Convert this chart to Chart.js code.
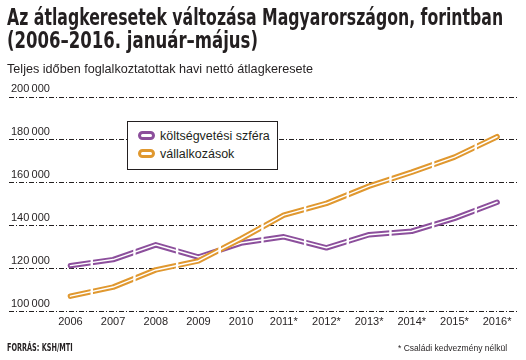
<!DOCTYPE html>
<html>
<head>
<meta charset="utf-8">
<script src="https://cdn.jsdelivr.net/npm/chart.js@4"></script>
<style>
  html, body { margin: 0; padding: 0; background: #fff; }
  #wrap { position: relative; width: 526px; height: 360px; overflow: hidden; color: #231f20; }
  #chart { position: absolute; left: 0; top: 0; }
  .txt { position: absolute; white-space: nowrap; transform-origin: 0 0; }
  .title { font-family: "DejaVu Sans Condensed", "DejaVu Sans", sans-serif; font-weight: bold; font-size: 23.5px; line-height: 23px; left: 7px; }
  .sub { font-family: "Liberation Sans", sans-serif; font-size: 13px; line-height: 14px; left: 7px; top: 62px; }
  .src { font-family: "DejaVu Sans Condensed", "DejaVu Sans", sans-serif; font-weight: bold; font-size: 10px; line-height: 10px; left: 7px; top: 343px; }
  .note { font-family: "Liberation Sans", sans-serif; font-size: 9px; line-height: 9px; top: 344px; }
  #legend { position: absolute; left: 127px; top: 121px; width: 149px; height: 47px; border: 1.7px solid #231f20; background: #fff; }
  .row { position: absolute; left: 10px; height: 16px; font-family: "Liberation Sans", sans-serif; font-size: 12.5px; line-height: 16px; white-space: nowrap; }
  .pill { display: inline-block; width: 11px; height: 3px; border: 3px solid; border-radius: 5px; vertical-align: middle; margin-right: 5px; position: relative; top: -1px; }
</style>
</head>
<body>
<div id="wrap">
  <canvas id="chart" width="526" height="360"></canvas>
  <div class="txt title" id="t1" style="top:6px">Az átlagkeresetek változása Magyarországon, forintban</div>
  <div class="txt title" id="t2" style="top:29px">(2006–2016. január–május)</div>
  <div class="txt sub" id="sub">Teljes időben foglalkoztatottak havi nettó átlagkeresete</div>
  <div id="legend"></div>
  <div class="txt src" id="src">FORRÁS: KSH/MTI</div>
  <div class="txt note" id="note">* Családi kedvezmény nélkül</div>
</div>
<script>
// Years and their axis labels (* = without family allowance)
const years = [2006, 2007, 2008, 2009, 2010, 2011, 2012, 2013, 2014, 2015, 2016];
const yearLabels = ['2006', '2007', '2008', '2009', '2010', '2011*', '2012*', '2013*', '2014*', '2015*', '2016*'];

// Net average monthly earnings, HUF
const budgetSector = [121500, 124300, 131200, 125500, 132000, 134900, 129800, 135900, 137500, 143500, 151000];
const businessSector = [107300, 111500, 119500, 123700, 134000, 145000, 150500, 158500, 165000, 172000, 181500];

const seriesNames = ['költségvetési szféra', 'vállalkozások'];
const seriesColors = ['#8c4f9c', '#e0982f'];

// y axis ticks
const yTicks = [100000, 120000, 140000, 160000, 180000, 200000];
const yTickLabels = ['100\u2009000', '120\u2009000', '140\u2009000', '160\u2009000', '180\u2009000', '200\u2009000'];

const tickFont = { family: '"Liberation Sans", Arial, sans-serif', size: 11 };

// squeeze text to the width it has in the print
function fit(id, width) {
    const el = document.getElementById(id);
    el.style.transform = 'scaleX(' + (width / el.scrollWidth) + ')';
}
fit('t1', 496);
fit('t2', 251);
fit('sub', 306);
fit('src', 66);
const note = document.getElementById('note');
note.style.left = (507 - 109) + 'px';
fit('note', 109);

// legend
const legend = document.getElementById('legend');
seriesNames.forEach(function(name, i) {
    const row = document.createElement('div');
    row.className = 'row';
    row.style.top = (6 + i * 18) + 'px';
    row.innerHTML = '<span class="pill" style="border-color:' + seriesColors[i] + '"></span>' + name;
    legend.appendChild(row);
});

function toPoints(values) {
    return years.map(function(yr, i) { return { x: yr, y: values[i] }; });
}

// hollow line = thick coloured stroke + thin white stroke on top
function hollow(values, color, order) {
    return [{
        data: toPoints(values),
        borderColor: color,
        borderWidth: 5.5,
        borderCapStyle: 'round',
        borderJoinStyle: 'round',
        pointRadius: 0,
        tension: 0,
        order: order + 1
    }, {
        data: toPoints(values),
        borderColor: '#ffffff',
        borderWidth: 1.5,
        borderCapStyle: 'round',
        borderJoinStyle: 'round',
        pointRadius: 0,
        tension: 0,
        order: order
    }];
}

// small white cuts in the lines halfway between the years
const gapPlugin = {
    id: 'gaps',
    afterDatasetsDraw(chart) {
        const ctx = chart.ctx;
        const xs = chart.scales.x;
        const ys = chart.scales.y;
        ctx.save();
        ctx.fillStyle = '#ffffff';
        [budgetSector, businessSector].forEach(function(vals) {
            for (let i = 0; i < years.length - 1; i++) {
                const mx = xs.getPixelForValue((years[i] + years[i + 1]) / 2);
                const my = ys.getPixelForValue((vals[i] + vals[i + 1]) / 2);
                ctx.fillRect(mx - 1.2, my - 6, 2.4, 12);
            }
        });
        ctx.restore();
    }
};

new Chart(document.getElementById('chart'), {
    type: 'line',
    data: {
        datasets: hollow(budgetSector, seriesColors[0], 2).concat(hollow(businessSector, seriesColors[1], 0))
    },
    options: {
        responsive: false,
        animation: false,
        layout: { padding: { left: 5, right: 8, top: 97, bottom: 27 } },
        plugins: {
            legend: { display: false },
            tooltip: { enabled: false }
        },
        scales: {
            x: {
                type: 'linear',
                min: 2004.56,
                max: 2016.49,
                grid: { display: false, drawTicks: false },
                border: { display: false },
                afterBuildTicks: function(scale) {
                    scale.ticks = years.map(function(v) { return { value: v }; });
                },
                ticks: {
                    padding: 4,
                    color: '#231f20',
                    font: tickFont,
                    callback: function(value, index) { return yearLabels[index]; }
                }
            },
            y: {
                min: yTicks[0],
                max: yTicks[yTicks.length - 1],
                afterBuildTicks: function(scale) {
                    scale.ticks = yTicks.map(function(v) { return { value: v }; });
                },
                grid: { color: '#231f20', lineWidth: 1, drawTicks: false },
                border: { display: false, dash: [5, 2, 1, 2] },
                ticks: {
                    mirror: true,
                    padding: 2,
                    labelOffset: -8,
                    color: '#231f20',
                    font: tickFont,
                    callback: function(value, index) { return yTickLabels[index]; }
                }
            }
        }
    },
    plugins: [gapPlugin]
});
</script>
</body>
</html>
